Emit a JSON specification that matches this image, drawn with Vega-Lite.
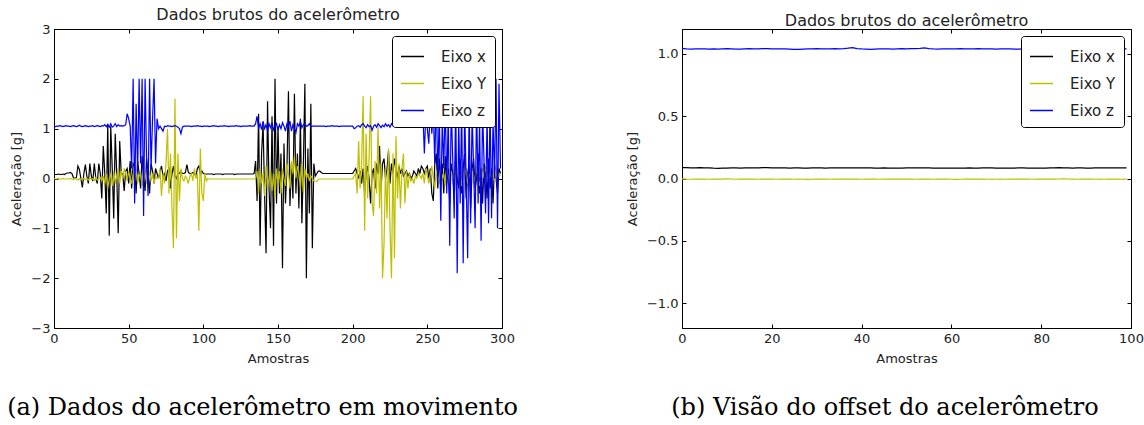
{
"$schema": "https://vega.github.io/schema/vega-lite/v6.json",
"padding": {"left": 7, "top": 6, "right": 5, "bottom": 5},
"config": {
  "font": "DejaVu Sans",
  "view": {"stroke": "#000", "strokeWidth": 1},
  "axis": {"grid": false, "domainColor": "#000", "tickColor": "#000", "tickSize": -4, "labelPadding": 8, "labelFontSize": 13, "labelColor": "#222", "titleFontSize": 13, "titleFontWeight": "normal", "titleColor": "#222", "titlePadding": 7, "labelFlush": false, "labelFont": "DejaVu Sans", "titleFont": "DejaVu Sans"},
  "title": {"font": "DejaVu Sans", "fontSize": 16, "fontWeight": "normal", "color": "#222"},
  "legend": {"padding": 8, "strokeColor": "#000", "fillColor": "#fff", "cornerRadius": 3, "symbolType": "stroke", "symbolSize": 529, "symbolStrokeWidth": 1.5, "labelFontSize": 15, "labelFont": "DejaVu Sans", "labelOffset": 16, "rowPadding": 6, "labelColor": "#222"},
  "concat": {"spacing": 106}
},
"datasets": {
"a": [
{"t":0,"x":0.08,"y":0,"z":1.05},{"t":1,"x":0.08,"y":-0.01,"z":1.04},{"t":2,"x":0.08,"y":-0.01,"z":1.05},{"t":3,"x":0.09,"y":0,"z":1.05},{"t":4,"x":0.08,"y":-0.01,"z":1.06},
{"t":5,"x":0.08,"y":-0.01,"z":1.05},{"t":6,"x":0.09,"y":0,"z":1.04},{"t":7,"x":0.08,"y":-0.01,"z":1.05},{"t":8,"x":0.1,"y":-0.01,"z":1.06},{"t":9,"x":0.11,"y":-0.01,"z":1.05},
{"t":10,"x":0.11,"y":-0.01,"z":1.05},{"t":11,"x":0.12,"y":0,"z":1.04},{"t":12,"x":0.1,"y":-0.01,"z":1.05},{"t":13,"x":0.02,"y":-0.02,"z":1.06},{"t":14,"x":0,"y":0,"z":1.05},
{"t":15,"x":0.02,"y":-0.01,"z":1.04},{"t":16,"x":0.25,"y":-0.03,"z":1.05},{"t":17,"x":0.18,"y":0,"z":1.07},{"t":18,"x":0,"y":-0.02,"z":1.05},{"t":19,"x":-0.18,"y":-0.01,"z":1.04},
{"t":20,"x":0.1,"y":0,"z":1.05},{"t":21,"x":0.28,"y":-0.02,"z":1.06},{"t":22,"x":0.05,"y":0,"z":1.05},{"t":23,"x":-0.1,"y":-0.03,"z":1.04},{"t":24,"x":0.3,"y":0.01,"z":1.05},
{"t":25,"x":0.05,"y":-0.02,"z":1.05},{"t":26,"x":-0.05,"y":0,"z":1.06},{"t":27,"x":0.3,"y":-0.04,"z":1.04},{"t":28,"x":0,"y":0.02,"z":1.05},{"t":29,"x":-0.1,"y":-0.03,"z":1.06},
{"t":30,"x":0.3,"y":0,"z":1.05},{"t":31,"x":0.1,"y":0.02,"z":1.04},{"t":32,"x":-0.4,"y":-0.05,"z":1.06},{"t":33,"x":0.65,"y":0.05,"z":1.05},{"t":34,"x":0.1,"y":-0.1,"z":1.08},
{"t":35,"x":-0.7,"y":0.1,"z":1.04},{"t":36,"x":1.1,"y":-0.2,"z":1.08},{"t":37,"x":-1.15,"y":0,"z":1.03},{"t":38,"x":1.05,"y":0.1,"z":1.1},{"t":39,"x":0.2,"y":-0.15,"z":1.03},
{"t":40,"x":-0.8,"y":0.15,"z":1.05},{"t":41,"x":0.9,"y":-0.1,"z":1.1},{"t":42,"x":0.1,"y":0.05,"z":1.04},{"t":43,"x":-1.1,"y":0.2,"z":1.08},{"t":44,"x":0.75,"y":-0.1,"z":1.05},
{"t":45,"x":0.1,"y":0.15,"z":1.06},{"t":46,"x":0.1,"y":0,"z":1.05},{"t":47,"x":-0.25,"y":0.2,"z":1.06},{"t":48,"x":0.15,"y":0.1,"z":1.08},{"t":49,"x":0.2,"y":-0.05,"z":1.3},
{"t":50,"x":-0.1,"y":0.15,"z":1.2},{"t":51,"x":0.35,"y":0,"z":1.05},{"t":52,"x":-0.2,"y":-0.1,"z":0.2},{"t":53,"x":0.3,"y":0.1,"z":2.0},{"t":54,"x":0.25,"y":-0.05,"z":-0.5},
{"t":55,"x":-0.3,"y":0.15,"z":1.5},{"t":56,"x":0.35,"y":-0.1,"z":0.1},{"t":57,"x":0.1,"y":0.05,"z":2.0},{"t":58,"x":-0.2,"y":0.1,"z":0.3},{"t":59,"x":0.45,"y":-0.15,"z":2.0},
{"t":60,"x":0.05,"y":0.05,"z":-0.75},{"t":61,"x":-0.25,"y":0.1,"z":2.0},{"t":62,"x":0.4,"y":-0.1,"z":0.4},{"t":63,"x":0.1,"y":0,"z":-0.35},{"t":64,"x":-0.3,"y":0.15,"z":2.0},
{"t":65,"x":0.3,"y":-0.05,"z":0.2},{"t":66,"x":0.15,"y":0.1,"z":1.2},{"t":67,"x":-0.1,"y":-0.1,"z":2.0},{"t":68,"x":0.2,"y":0.05,"z":0.3},{"t":69,"x":0.1,"y":0,"z":1.2},
{"t":70,"x":0,"y":0,"z":1.0},{"t":71,"x":0.15,"y":0.2,"z":1.05},{"t":72,"x":0.25,"y":-0.35,"z":1.0},{"t":73,"x":0.05,"y":0.1,"z":0.95},{"t":74,"x":0.1,"y":-0.1,"z":1.05},
{"t":75,"x":-0.05,"y":0.3,"z":1.04},{"t":76,"x":0.15,"y":1.0,"z":1.06},{"t":77,"x":0.2,"y":-0.3,"z":1.05},{"t":78,"x":-0.2,"y":0.5,"z":1.05},{"t":79,"x":0.1,"y":-0.6,"z":1.04},
{"t":80,"x":0.25,"y":-1.4,"z":1.05},{"t":81,"x":0.05,"y":1.6,"z":1.06},{"t":82,"x":0,"y":-1.2,"z":1.05},{"t":83,"x":0.1,"y":0.5,"z":1.03},{"t":84,"x":0.1,"y":-0.45,"z":1.0},
{"t":85,"x":0.15,"y":0.2,"z":0.9},{"t":86,"x":0.1,"y":0,"z":1.03},{"t":87,"x":0.1,"y":-0.05,"z":1.05},{"t":88,"x":0.12,"y":0.05,"z":1.05},{"t":89,"x":0.28,"y":0,"z":1.05},
{"t":90,"x":0.12,"y":-0.1,"z":1.05},{"t":91,"x":0.1,"y":0.05,"z":1.05},{"t":92,"x":0.1,"y":0.1,"z":1.04},{"t":93,"x":0.12,"y":-0.05,"z":1.05},{"t":94,"x":0.1,"y":0.2,"z":1.05},
{"t":95,"x":0.05,"y":0,"z":1.05},{"t":96,"x":0.2,"y":0.1,"z":1.06},{"t":97,"x":0.25,"y":-1.05,"z":1.05},{"t":98,"x":0.1,"y":0.6,"z":1.05},{"t":99,"x":0.15,"y":-0.3,"z":1.04},
{"t":100,"x":0.1,"y":-0.45,"z":1.05},{"t":101,"x":0.09,"y":0.1,"z":1.05},{"t":102,"x":0.09,"y":-0.05,"z":1.05},{"t":103,"x":0.09,"y":0,"z":1.05},{"t":104,"x":0.09,"y":-0.01,"z":1.04},
{"t":105,"x":0.09,"y":-0.01,"z":1.05},{"t":106,"x":0.09,"y":-0.01,"z":1.05},{"t":107,"x":0.08,"y":-0.01,"z":1.06},{"t":108,"x":0.09,"y":-0.01,"z":1.05},{"t":109,"x":0.09,"y":-0.01,"z":1.05},
{"t":110,"x":0.09,"y":-0.01,"z":1.04},{"t":111,"x":0.09,"y":-0.01,"z":1.05},{"t":112,"x":0.09,"y":-0.01,"z":1.05},{"t":113,"x":0.08,"y":-0.01,"z":1.05},{"t":114,"x":0.09,"y":-0.01,"z":1.06},
{"t":115,"x":0.09,"y":-0.01,"z":1.05},{"t":116,"x":0.09,"y":-0.01,"z":1.05},{"t":117,"x":0.09,"y":-0.01,"z":1.04},{"t":118,"x":0.09,"y":-0.01,"z":1.05},{"t":119,"x":0.09,"y":-0.01,"z":1.05},
{"t":120,"x":0.09,"y":-0.01,"z":1.05},{"t":121,"x":0.08,"y":-0.01,"z":1.05},{"t":122,"x":0.09,"y":-0.01,"z":1.06},{"t":123,"x":0.09,"y":-0.01,"z":1.05},{"t":124,"x":0.09,"y":-0.01,"z":1.05},
{"t":125,"x":0.09,"y":-0.01,"z":1.04},{"t":126,"x":0.09,"y":-0.01,"z":1.05},{"t":127,"x":0.09,"y":-0.01,"z":1.05},{"t":128,"x":0.09,"y":-0.01,"z":1.05},{"t":129,"x":0.09,"y":-0.01,"z":1.05},
{"t":130,"x":0.09,"y":-0.01,"z":1.05},{"t":131,"x":0.09,"y":-0.01,"z":1.06},{"t":132,"x":0.09,"y":-0.01,"z":1.05},{"t":133,"x":0.09,"y":-0.01,"z":1.05},{"t":134,"x":0.1,"y":-0.01,"z":1.05},
{"t":135,"x":0.35,"y":0,"z":1.1},{"t":136,"x":-0.45,"y":0.15,"z":1.25},{"t":137,"x":1.3,"y":-0.3,"z":1.0},{"t":138,"x":-1.35,"y":0.2,"z":1.1},{"t":139,"x":0.5,"y":-0.1,"z":0.98},
{"t":140,"x":1.1,"y":0.1,"z":1.15},{"t":141,"x":-0.3,"y":-0.35,"z":1.0},{"t":142,"x":-1.5,"y":0.25,"z":1.08},{"t":143,"x":1.55,"y":-0.2,"z":0.95},{"t":144,"x":-0.2,"y":0,"z":1.1},
{"t":145,"x":-1.0,"y":0.15,"z":1.02},{"t":146,"x":1.25,"y":-0.25,"z":1.12},{"t":147,"x":-1.35,"y":0.1,"z":0.98},{"t":148,"x":2.0,"y":-0.4,"z":1.05},{"t":149,"x":-0.5,"y":0.2,"z":1.1},
{"t":150,"x":1.05,"y":-0.1,"z":0.97},{"t":151,"x":-0.3,"y":0.15,"z":1.08},{"t":152,"x":0.5,"y":-0.3,"z":1.0},{"t":153,"x":-1.8,"y":0.2,"z":1.12},{"t":154,"x":0.7,"y":0,"z":1.05},
{"t":155,"x":-0.5,"y":-0.15,"z":0.95},{"t":156,"x":0.2,"y":0.3,"z":1.1},{"t":157,"x":1.75,"y":0.1,"z":1.05},{"t":158,"x":-0.55,"y":-0.2,"z":1.15},{"t":159,"x":0.3,"y":0.35,"z":0.95},
{"t":160,"x":-0.4,"y":0.1,"z":1.08},{"t":161,"x":1.7,"y":0.45,"z":1.0},{"t":162,"x":-0.3,"y":0,"z":0.92},{"t":163,"x":0.5,"y":0.25,"z":1.1},{"t":164,"x":-0.6,"y":0.1,"z":1.05},
{"t":165,"x":1.2,"y":-0.2,"z":1.15},{"t":166,"x":-0.9,"y":0.3,"z":1.02},{"t":167,"x":0.3,"y":-0.3,"z":1.08},{"t":168,"x":1.9,"y":0.2,"z":1.1},{"t":169,"x":-2.0,"y":0,"z":1.05},
{"t":170,"x":0.6,"y":0.1,"z":1.06},{"t":171,"x":-0.7,"y":-0.05,"z":1.1},{"t":172,"x":1.5,"y":0.05,"z":1.04},{"t":173,"x":-1.4,"y":0,"z":1.05},{"t":174,"x":0.3,"y":-0.05,"z":1.05},
{"t":175,"x":0.05,"y":-0.05,"z":1.05},{"t":176,"x":0.1,"y":-0.06,"z":1.05},{"t":177,"x":0.15,"y":-0.02,"z":1.05},{"t":178,"x":0.15,"y":-0.01,"z":1.05},{"t":179,"x":0.12,"y":-0.01,"z":1.05},
{"t":180,"x":0.1,"y":-0.01,"z":1.05},{"t":181,"x":0.1,"y":-0.01,"z":1.05},{"t":182,"x":0.1,"y":-0.01,"z":1.04},{"t":183,"x":0.1,"y":-0.01,"z":1.05},{"t":184,"x":0.1,"y":-0.01,"z":1.05},
{"t":185,"x":0.1,"y":-0.01,"z":1.05},{"t":186,"x":0.1,"y":-0.01,"z":1.06},{"t":187,"x":0.1,"y":-0.01,"z":1.05},{"t":188,"x":0.1,"y":-0.01,"z":1.05},{"t":189,"x":0.1,"y":-0.01,"z":1.05},
{"t":190,"x":0.1,"y":-0.01,"z":1.05},{"t":191,"x":0.1,"y":-0.01,"z":1.04},{"t":192,"x":0.1,"y":-0.01,"z":1.05},{"t":193,"x":0.1,"y":-0.01,"z":1.05},{"t":194,"x":0.1,"y":-0.01,"z":1.05},
{"t":195,"x":0.1,"y":-0.01,"z":1.05},{"t":196,"x":0.1,"y":-0.01,"z":1.05},{"t":197,"x":0.1,"y":-0.01,"z":1.05},{"t":198,"x":0.1,"y":-0.01,"z":1.05},{"t":199,"x":0.1,"y":-0.01,"z":1.05},
{"t":200,"x":0.1,"y":-0.01,"z":1.05},{"t":201,"x":0.15,"y":0.05,"z":1.0},{"t":202,"x":0.2,"y":0.1,"z":1.02},{"t":203,"x":0.1,"y":-0.3,"z":1.05},{"t":204,"x":0,"y":0.75,"z":1.06},
{"t":205,"x":0.15,"y":-0.2,"z":1.03},{"t":206,"x":-0.1,"y":0.3,"z":1.08},{"t":207,"x":0.2,"y":1.65,"z":1.1},{"t":208,"x":-0.3,"y":-1.05,"z":1.05},{"t":209,"x":0.1,"y":0.9,"z":1.02},
{"t":210,"x":0.25,"y":-0.4,"z":1.08},{"t":211,"x":0,"y":0.4,"z":1.04},{"t":212,"x":-0.5,"y":1.65,"z":1.06},{"t":213,"x":0.1,"y":-0.5,"z":0.97},{"t":214,"x":0.2,"y":-0.75,"z":1.05},
{"t":215,"x":-0.2,"y":0.35,"z":1.08},{"t":216,"x":0.3,"y":-0.3,"z":1.03},{"t":217,"x":0.1,"y":1.05,"z":1.1},{"t":218,"x":0.65,"y":-0.6,"z":1.06},{"t":219,"x":-0.2,"y":0.3,"z":1.02},
{"t":220,"x":0.3,"y":-2.0,"z":1.07},{"t":221,"x":0.4,"y":-1.3,"z":1.04},{"t":222,"x":0,"y":0.2,"z":1.1},{"t":223,"x":0.2,"y":-0.8,"z":1.05},{"t":224,"x":0.55,"y":0.6,"z":1.08},
{"t":225,"x":-0.1,"y":-1.0,"z":1.03},{"t":226,"x":0.3,"y":-2.0,"z":1.1},{"t":227,"x":0.1,"y":0.5,"z":1.06},{"t":228,"x":0.4,"y":-1.6,"z":1.05},{"t":229,"x":0.2,"y":0.85,"z":1.08},
{"t":230,"x":0,"y":-0.4,"z":1.04},{"t":231,"x":0.25,"y":0.3,"z":1.1},{"t":232,"x":0.1,"y":-0.6,"z":1.06},{"t":233,"x":0.2,"y":0.2,"z":1.05},{"t":234,"x":0.05,"y":0.5,"z":1.08},
{"t":235,"x":0.1,"y":-0.5,"z":1.05},{"t":236,"x":0.15,"y":0.15,"z":1.05},{"t":237,"x":0.05,"y":-0.2,"z":1.06},{"t":238,"x":0.1,"y":0.1,"z":1.05},{"t":239,"x":0,"y":-0.05,"z":1.05},
{"t":240,"x":0.05,"y":0,"z":1.05},{"t":241,"x":0.15,"y":-0.1,"z":1.05},{"t":242,"x":0.1,"y":0.05,"z":1.05},{"t":243,"x":0.05,"y":0,"z":1.05},{"t":244,"x":0.2,"y":0.1,"z":1.06},
{"t":245,"x":0.1,"y":0.05,"z":1.05},{"t":246,"x":0.25,"y":0,"z":1.1},{"t":247,"x":0.2,"y":0.1,"z":1.35},{"t":248,"x":0.1,"y":-0.1,"z":0.5},{"t":249,"x":0.2,"y":0.2,"z":1.3},
{"t":250,"x":0.25,"y":0.05,"z":1.0},{"t":251,"x":0,"y":-0.1,"z":0.7},{"t":252,"x":0.2,"y":0.1,"z":1.5},{"t":253,"x":-0.3,"y":0.25,"z":0.9},{"t":254,"x":-0.45,"y":0,"z":1.4},
{"t":255,"x":0.3,"y":-0.2,"z":0.3},{"t":256,"x":0.5,"y":0.15,"z":1.8},{"t":257,"x":-0.2,"y":0.05,"z":-0.1},{"t":258,"x":0.4,"y":-0.1,"z":1.4},{"t":259,"x":0,"y":0.2,"z":-0.85},
{"t":260,"x":0.3,"y":0,"z":1.2},{"t":261,"x":-0.3,"y":0.1,"z":0.2},{"t":262,"x":0.45,"y":-0.15,"z":1.6},{"t":263,"x":-0.1,"y":0.2,"z":-0.3},{"t":264,"x":0.2,"y":0.05,"z":1.3},
{"t":265,"x":-0.5,"y":-0.1,"z":-1.35},{"t":266,"x":0.3,"y":0.15,"z":1.5},{"t":267,"x":0.1,"y":0,"z":0.4},{"t":268,"x":-0.4,"y":0.1,"z":-0.8},{"t":269,"x":0.5,"y":-0.1,"z":1.7},
{"t":270,"x":0,"y":0.2,"z":-1.9},{"t":271,"x":-0.2,"y":0,"z":1.2},{"t":272,"x":0.4,"y":0.1,"z":-0.5},{"t":273,"x":-0.3,"y":-0.15,"z":1.5},{"t":274,"x":0.2,"y":0.1,"z":-1.7},
{"t":275,"x":0.5,"y":0.05,"z":1.4},{"t":276,"x":-0.4,"y":0.2,"z":0},{"t":277,"x":0.1,"y":-0.1,"z":-1.6},{"t":278,"x":0.3,"y":0.1,"z":1.5},{"t":279,"x":-0.6,"y":0,"z":-0.9},
{"t":280,"x":0.2,"y":0.15,"z":1.3},{"t":281,"x":0.4,"y":-0.1,"z":0.2},{"t":282,"x":-0.2,"y":0.05,"z":-1.0},{"t":283,"x":0,"y":0.2,"z":1.6},{"t":284,"x":0.5,"y":0,"z":-0.5},
{"t":285,"x":-0.3,"y":-0.15,"z":1.2},{"t":286,"x":0.2,"y":0.1,"z":-1.25},{"t":287,"x":-0.5,"y":0.2,"z":1.4},{"t":288,"x":0.3,"y":0,"z":0.3},{"t":289,"x":0.1,"y":0.25,"z":-0.7},
{"t":290,"x":-0.4,"y":0.05,"z":1.3},{"t":291,"x":0.4,"y":-0.1,"z":-0.9},{"t":292,"x":-0.2,"y":0.15,"z":1.5},{"t":293,"x":0.2,"y":0,"z":-0.8},{"t":294,"x":-0.5,"y":0.1,"z":1.2},
{"t":295,"x":0.3,"y":-0.05,"z":0},{"t":296,"x":0,"y":0.2,"z":2.0},{"t":297,"x":-0.3,"y":0,"z":-1.0},{"t":298,"x":0.2,"y":0.1,"z":1.9},{"t":299,"x":0.1,"y":0.05,"z":0.2}
],
"b": [
{"t":0,"x":0.088,"y":-0.003,"z":1.045},{"t":1,"x":0.087,"y":-0.005,"z":1.04},{"t":2,"x":0.086,"y":-0.006,"z":1.038},{"t":3,"x":0.086,"y":-0.005,"z":1.04},{"t":4,"x":0.087,"y":-0.004,"z":1.041},
{"t":5,"x":0.086,"y":-0.005,"z":1.04},{"t":6,"x":0.085,"y":-0.006,"z":1.039},{"t":7,"x":0.083,"y":-0.005,"z":1.041},{"t":8,"x":0.082,"y":-0.004,"z":1.038},{"t":9,"x":0.083,"y":-0.005,"z":1.04},
{"t":10,"x":0.084,"y":-0.003,"z":1.042},{"t":11,"x":0.085,"y":-0.004,"z":1.04},{"t":12,"x":0.085,"y":-0.006,"z":1.038},{"t":13,"x":0.084,"y":-0.005,"z":1.039},{"t":14,"x":0.085,"y":-0.004,"z":1.041},
{"t":15,"x":0.086,"y":-0.005,"z":1.042},{"t":16,"x":0.086,"y":-0.004,"z":1.04},{"t":17,"x":0.086,"y":-0.006,"z":1.041},{"t":18,"x":0.087,"y":-0.005,"z":1.043},{"t":19,"x":0.087,"y":-0.004,"z":1.042},
{"t":20,"x":0.086,"y":-0.005,"z":1.041},{"t":21,"x":0.086,"y":-0.006,"z":1.04},{"t":22,"x":0.085,"y":-0.005,"z":1.041},{"t":23,"x":0.085,"y":-0.004,"z":1.04},{"t":24,"x":0.084,"y":-0.005,"z":1.038},
{"t":25,"x":0.085,"y":-0.006,"z":1.036},{"t":26,"x":0.085,"y":-0.005,"z":1.037},{"t":27,"x":0.084,"y":-0.006,"z":1.039},{"t":28,"x":0.084,"y":-0.007,"z":1.04},{"t":29,"x":0.085,"y":-0.006,"z":1.041},
{"t":30,"x":0.085,"y":-0.005,"z":1.042},{"t":31,"x":0.085,"y":-0.004,"z":1.04},{"t":32,"x":0.084,"y":-0.005,"z":1.041},{"t":33,"x":0.085,"y":-0.006,"z":1.04},{"t":34,"x":0.085,"y":-0.005,"z":1.042},
{"t":35,"x":0.086,"y":-0.004,"z":1.041},{"t":36,"x":0.086,"y":-0.005,"z":1.043},{"t":37,"x":0.085,"y":-0.005,"z":1.046},{"t":38,"x":0.086,"y":-0.004,"z":1.05},{"t":39,"x":0.086,"y":-0.005,"z":1.043},
{"t":40,"x":0.086,"y":-0.006,"z":1.04},{"t":41,"x":0.085,"y":-0.005,"z":1.038},{"t":42,"x":0.085,"y":-0.004,"z":1.036},{"t":43,"x":0.084,"y":-0.005,"z":1.038},{"t":44,"x":0.084,"y":-0.006,"z":1.04},
{"t":45,"x":0.085,"y":-0.005,"z":1.041},{"t":46,"x":0.084,"y":-0.004,"z":1.04},{"t":47,"x":0.083,"y":-0.005,"z":1.039},{"t":48,"x":0.083,"y":-0.004,"z":1.041},{"t":49,"x":0.084,"y":-0.005,"z":1.042},
{"t":50,"x":0.085,"y":-0.004,"z":1.041},{"t":51,"x":0.086,"y":-0.005,"z":1.042},{"t":52,"x":0.086,"y":-0.006,"z":1.043},{"t":53,"x":0.085,"y":-0.005,"z":1.045},{"t":54,"x":0.086,"y":-0.004,"z":1.048},
{"t":55,"x":0.085,"y":-0.005,"z":1.043},{"t":56,"x":0.084,"y":-0.006,"z":1.04},{"t":57,"x":0.083,"y":-0.005,"z":1.039},{"t":58,"x":0.083,"y":-0.004,"z":1.04},{"t":59,"x":0.084,"y":-0.005,"z":1.041},
{"t":60,"x":0.084,"y":-0.006,"z":1.04},{"t":61,"x":0.083,"y":-0.007,"z":1.041},{"t":62,"x":0.083,"y":-0.006,"z":1.042},{"t":63,"x":0.084,"y":-0.005,"z":1.041},{"t":64,"x":0.085,"y":-0.004,"z":1.04},
{"t":65,"x":0.084,"y":-0.005,"z":1.041},{"t":66,"x":0.084,"y":-0.004,"z":1.042},{"t":67,"x":0.085,"y":-0.005,"z":1.04},{"t":68,"x":0.085,"y":-0.006,"z":1.041},{"t":69,"x":0.085,"y":-0.005,"z":1.04},
{"t":70,"x":0.084,"y":-0.006,"z":1.039},{"t":71,"x":0.084,"y":-0.005,"z":1.04},{"t":72,"x":0.084,"y":-0.006,"z":1.041},{"t":73,"x":0.083,"y":-0.005,"z":1.04},{"t":74,"x":0.084,"y":-0.004,"z":1.038},
{"t":75,"x":0.085,"y":-0.005,"z":1.039},{"t":76,"x":0.085,"y":-0.004,"z":1.041},{"t":77,"x":0.084,"y":-0.005,"z":1.04},{"t":78,"x":0.083,"y":-0.006,"z":1.041},{"t":79,"x":0.083,"y":-0.005,"z":1.042},
{"t":80,"x":0.084,"y":-0.004,"z":1.041},{"t":81,"x":0.084,"y":-0.005,"z":1.04},{"t":82,"x":0.085,"y":-0.004,"z":1.041},{"t":83,"x":0.086,"y":-0.005,"z":1.042},{"t":84,"x":0.087,"y":-0.004,"z":1.041},
{"t":85,"x":0.086,"y":-0.003,"z":1.04},{"t":86,"x":0.085,"y":-0.004,"z":1.039},{"t":87,"x":0.084,"y":-0.005,"z":1.04},{"t":88,"x":0.085,"y":-0.006,"z":1.041},{"t":89,"x":0.085,"y":-0.005,"z":1.042},
{"t":90,"x":0.084,"y":-0.004,"z":1.041},{"t":91,"x":0.084,"y":-0.005,"z":1.04},{"t":92,"x":0.085,"y":-0.006,"z":1.041},{"t":93,"x":0.085,"y":-0.005,"z":1.04},{"t":94,"x":0.086,"y":-0.006,"z":1.041},
{"t":95,"x":0.086,"y":-0.005,"z":1.04},{"t":96,"x":0.085,"y":-0.004,"z":1.041},{"t":97,"x":0.085,"y":-0.005,"z":1.042},{"t":98,"x":0.086,"y":-0.006,"z":1.041},{"t":99,"x":0.086,"y":-0.005,"z":1.04}
]
},
"hconcat": [
  {
    "title": {"text": "(a) Dados do acelerômetro em movimento", "orient": "bottom", "anchor": "middle", "font": "DejaVu Serif", "fontSize": 24, "fontWeight": "normal", "color": "#000", "offset": 30},
    "resolve": {"scale": {"color": "independent"}, "legend": {"color": "independent"}},
    "vconcat": [
      {
        "width": 448, "height": 299,
        "title": {"text": "Dados brutos do acelerômetro", "offset": 0},
        "data": {"name": "a"},
        "transform": [{"fold": ["x", "y", "z"], "as": ["eixo", "g"]}],
        "layer": [
          {
            "mark": {"type": "line", "strokeWidth": 1.2, "clip": true},
            "encoding": {
              "x": {"field": "t", "type": "quantitative", "scale": {"domain": [0, 300], "nice": false, "zero": false}, "axis": {"title": "Amostras", "values": [0, 50, 100, 150, 200, 250, 300], "format": "d"}},
              "y": {"field": "g", "type": "quantitative", "scale": {"domain": [-3, 3], "nice": false}, "axis": {"title": "Aceleração [g]", "values": [-3, -2, -1, 0, 1, 2, 3], "format": "d"}},
              "color": {"field": "eixo", "type": "nominal", "scale": {"domain": ["x", "y", "z"], "range": ["#000000", "#BFBF00", "#0000FF"]}, "legend": {"title": null, "orient": "top-right", "offset": 7, "labelExpr": "datum.label == 'y' ? 'Eixo Y' : 'Eixo ' + datum.label"}}
            }
          },
          {
            "mark": {"type": "line", "strokeOpacity": 0, "clip": true},
            "encoding": {
              "x": {"field": "t", "type": "quantitative", "axis": {"orient": "top", "title": null, "labels": false, "values": [0, 50, 100, 150, 200, 250, 300]}},
              "y": {"field": "g", "type": "quantitative", "axis": {"orient": "right", "title": null, "labels": false, "values": [-3, -2, -1, 0, 1, 2, 3]}},
              "detail": {"field": "eixo", "type": "nominal"}
            }
          }
        ],
        "resolve": {"axis": {"x": "independent", "y": "independent"}}
      }
    ]
  },
  {
    "title": {"text": "(b) Visão do offset do acelerômetro", "orient": "bottom", "anchor": "middle", "font": "DejaVu Serif", "fontSize": 24, "fontWeight": "normal", "color": "#000", "offset": 30},
    "resolve": {"scale": {"color": "independent"}, "legend": {"color": "independent"}},
    "vconcat": [
      {
        "width": 449, "height": 299,
        "title": {"text": "Dados brutos do acelerômetro", "offset": 0},
        "data": {"name": "b"},
        "transform": [{"fold": ["x", "y", "z"], "as": ["eixo", "g"]}],
        "layer": [
          {
            "mark": {"type": "line", "strokeWidth": 1.2, "clip": true},
            "encoding": {
              "x": {"field": "t", "type": "quantitative", "scale": {"domain": [0, 100], "nice": false, "zero": false}, "axis": {"title": "Amostras", "values": [0, 20, 40, 60, 80, 100], "format": "d"}},
              "y": {"field": "g", "type": "quantitative", "scale": {"domain": [-1.2, 1.2], "nice": false}, "axis": {"title": "Aceleração [g]", "values": [-1, -0.5, 0, 0.5, 1], "format": ".1f"}},
              "color": {"field": "eixo", "type": "nominal", "scale": {"domain": ["x", "y", "z"], "range": ["#000000", "#BFBF00", "#0000FF"]}, "legend": {"title": null, "orient": "top-right", "offset": 7, "labelExpr": "datum.label == 'y' ? 'Eixo Y' : 'Eixo ' + datum.label"}}
            }
          },
          {
            "mark": {"type": "line", "strokeOpacity": 0, "clip": true},
            "encoding": {
              "x": {"field": "t", "type": "quantitative", "axis": {"orient": "top", "title": null, "labels": false, "values": [0, 20, 40, 60, 80, 100]}},
              "y": {"field": "g", "type": "quantitative", "axis": {"orient": "right", "title": null, "labels": false, "values": [-1, -0.5, 0, 0.5, 1]}},
              "detail": {"field": "eixo", "type": "nominal"}
            }
          }
        ],
        "resolve": {"axis": {"x": "independent", "y": "independent"}}
      }
    ]
  }
],
"resolve": {"scale": {"color": "independent"}, "legend": {"color": "independent"}}
}
